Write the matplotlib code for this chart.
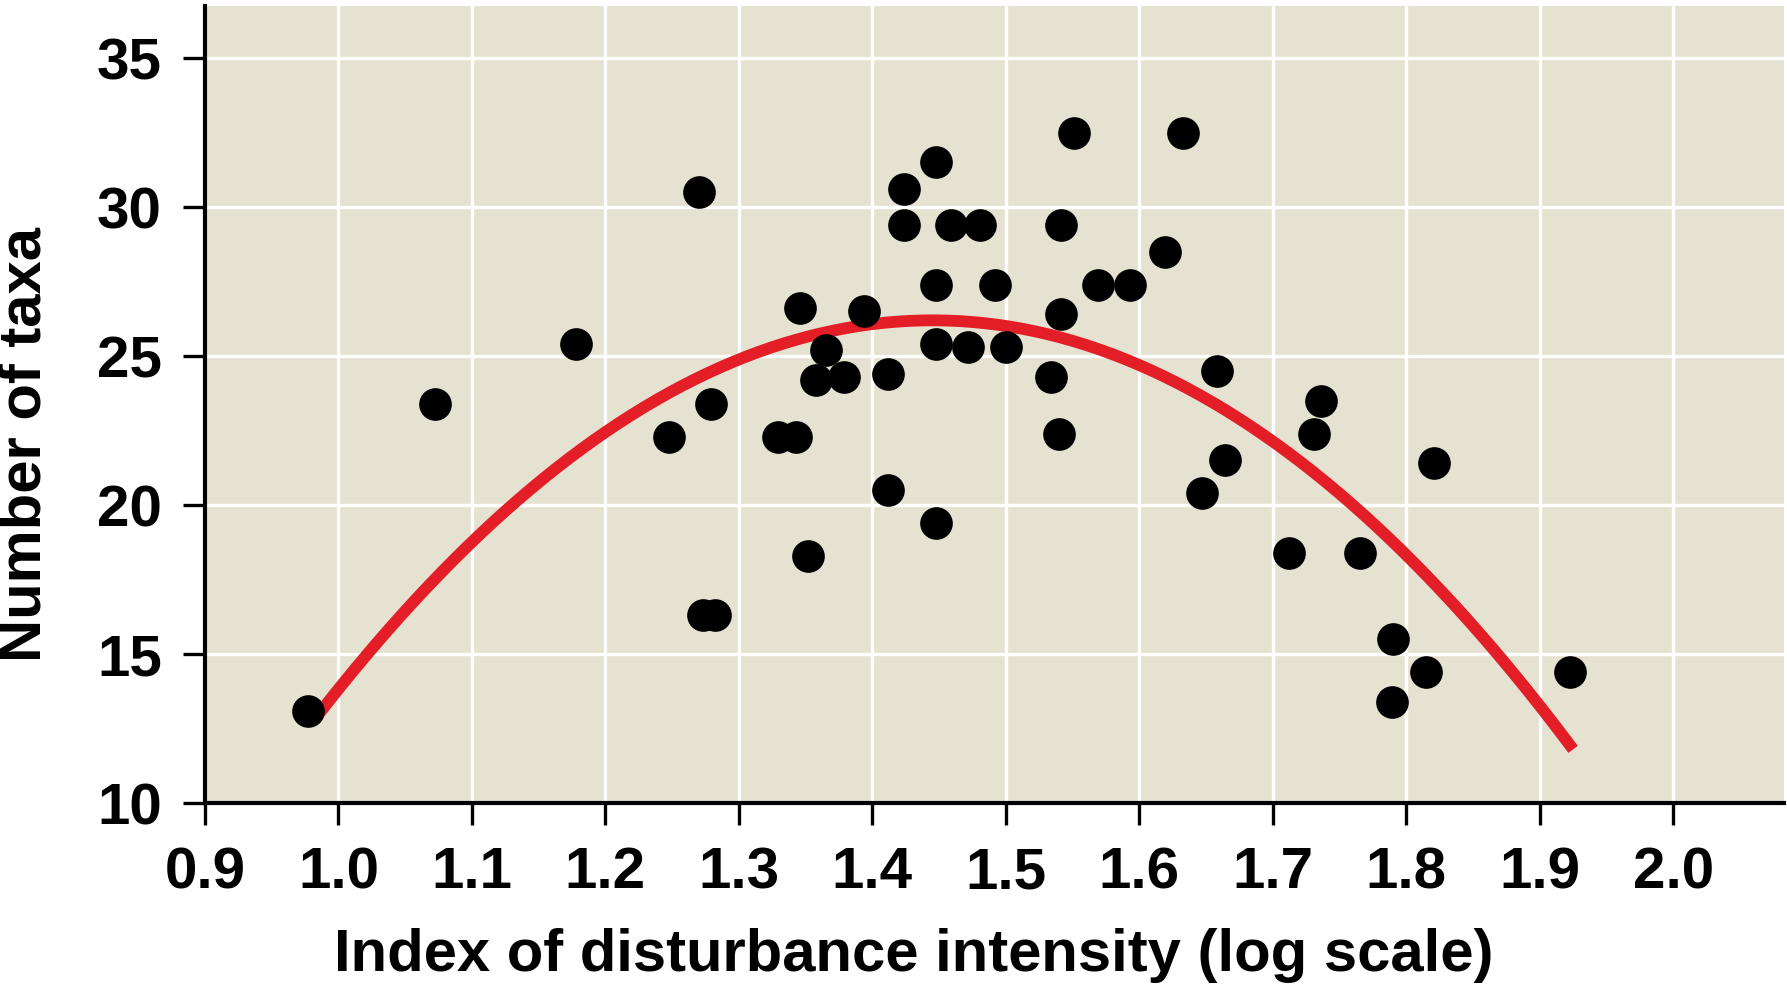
import numpy as np
import matplotlib
matplotlib.use('Agg')
import matplotlib.pyplot as plt

plt.rcParams['font.family'] = ['Liberation Sans', 'DejaVu Sans']
plt.rcParams['font.weight'] = 'bold'

# disturbance index (log scale) and number of taxa
disturbance = [0.977, 1.072, 1.178, 1.248, 1.270, 1.279, 1.273, 1.282, 1.329, 1.343,
               1.346, 1.352, 1.358, 1.365, 1.379, 1.394, 1.412, 1.412, 1.424, 1.424,
               1.448, 1.448, 1.448, 1.448, 1.459, 1.472, 1.481, 1.492, 1.500, 1.534,
               1.540, 1.541, 1.541, 1.551, 1.569, 1.593, 1.619, 1.633, 1.658, 1.647,
               1.664, 1.712, 1.731, 1.736, 1.765, 1.790, 1.789, 1.815, 1.821, 1.923]
taxa = [13.1, 23.4, 25.4, 22.3, 30.5, 23.4, 16.3, 16.3, 22.3, 22.3,
        26.6, 18.3, 24.2, 25.2, 24.3, 26.5, 24.4, 20.5, 30.6, 29.4,
        31.5, 27.4, 25.4, 19.4, 29.4, 25.3, 29.4, 27.4, 25.3, 24.3,
        22.4, 26.4, 29.4, 32.5, 27.4, 27.4, 28.5, 32.5, 24.5, 20.4,
        21.5, 18.4, 22.4, 23.5, 18.4, 15.5, 13.4, 14.4, 21.4, 14.4]

# quadratic fit: y = a*(x - x0)^2 + y0
fit_a, fit_x0, fit_y0 = -62.5, 1.445, 26.2
fit_range = (0.983, 1.925)

xticks = [0.9, 1.0, 1.1, 1.2, 1.3, 1.4, 1.5, 1.6, 1.7, 1.8, 1.9, 2.0]
yticks = [10, 15, 20, 25, 30, 35]

fig = plt.figure(figsize=(17.87, 9.88), dpi=100)
ax = fig.add_axes([205/1787, 1 - 803/988, (1784 - 205)/1787, (803 - 6)/988])
ax.set_facecolor('#e6e2d2')

ax.set_xlim(0.9, 2.083)
ax.set_ylim(10, 36.75)
ax.set_xticks(xticks)
ax.set_xticklabels([f'{v:.1f}' for v in xticks])
ax.set_yticks(yticks)

ax.set_axisbelow(True)
ax.grid(True, color='white', linewidth=2.4)

xs = np.linspace(fit_range[0], fit_range[1], 200)
ax.plot(xs, fit_a * (xs - fit_x0) ** 2 + fit_y0, color='#e31e26', linewidth=8.5,
        solid_capstyle='butt', zorder=2)
ax.plot(disturbance, taxa, 'o', color='black', markersize=22.5, zorder=3, clip_on=False)

for side in ['top', 'right']:
    ax.spines[side].set_visible(False)
for side in ['left', 'bottom']:
    ax.spines[side].set_linewidth(3)
ax.tick_params(axis='both', direction='out', length=16, width=2.4, pad=15,
               labelsize=42)

fig.text(25/1787, 1 - 444/988, 'Number of taxa', rotation=90, ha='center',
         va='center', fontsize=43, fontweight='bold')
fig.text(914/1787, 1 - 955/988, 'Index of disturbance intensity (log scale)',
         ha='center', va='center', fontsize=43, fontweight='bold')

fig.savefig('out.png', dpi=100, facecolor='white')
